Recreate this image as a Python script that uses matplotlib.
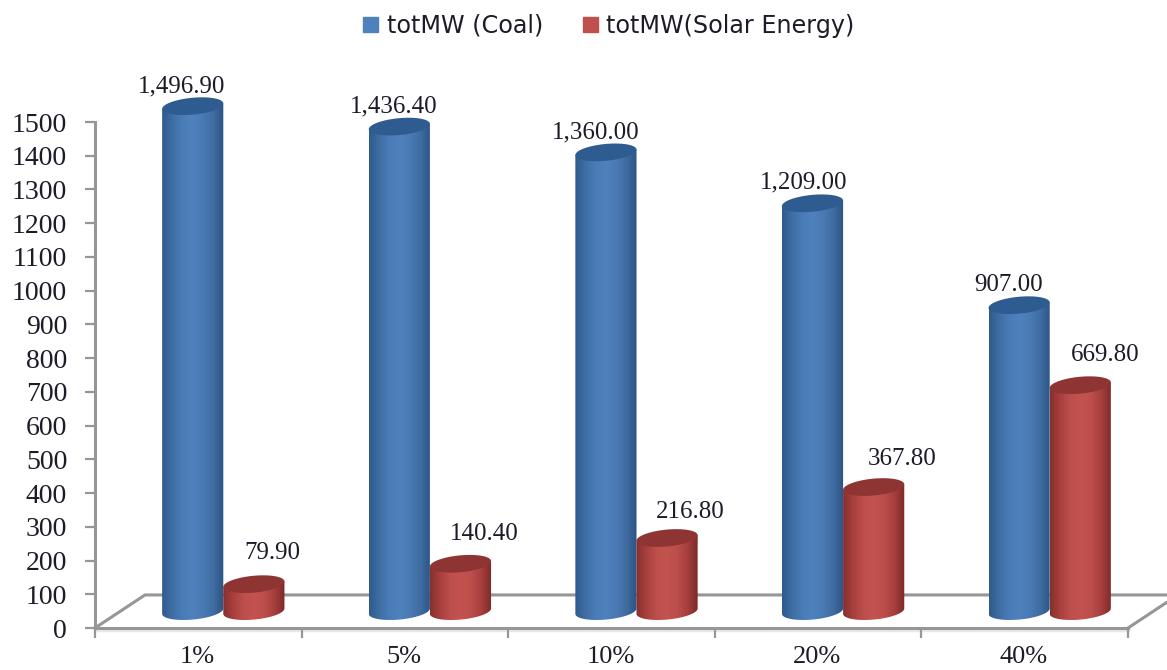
import numpy as np
import matplotlib
matplotlib.use("Agg")
import matplotlib.pyplot as plt
from matplotlib.colors import LinearSegmentedColormap
from matplotlib.patches import Patch, PathPatch
from matplotlib.path import Path

categories = ["1%", "5%", "10%", "20%", "40%"]
coal = [1496.90, 1436.40, 1360.00, 1209.00, 907.00]
solar = [79.90, 140.40, 216.80, 367.80, 669.80]
y_ticks = list(range(0, 1600, 100))

# pixel nudges for the value labels
coal_nudge = [(-11, 20), (-6, 20), (-10, 20), (-9, 21), (-11, 20)]
solar_nudge = [(18, 31), (24, 30), (23, 26), (28, 28), (25, 30)]

W, H = 1167, 670
AXIS = "#969696"
TEXT = "#1c1c28"
SERIF = "Liberation Serif"

# depth of the 3d floor, and where the bars stand on it
DEPTH_X, DEPTH_Y = 0.242, 98
MID_X, MID_Y = DEPTH_X / 2, 50
BAR_W = 0.296
ELL_H, ELL_TILT = 25, 8

blue_map = LinearSegmentedColormap.from_list("b", ["#2f5b8e", "#3f6ea3", "#4a7cb8", "#4f81bd", "#4a7ab4", "#3f6ca1", "#2b5484"])
red_map = LinearSegmentedColormap.from_list("r", ["#86302e", "#a9403e", "#bd4f4c", "#c4534f", "#bc4e4b", "#a63f3d", "#7d2a29"])


def cylinder(ax, cx, value, cmap, top_color, z):
	a = BAR_W / 2
	base = MID_Y
	top = MID_Y + value
	t = np.linspace(np.pi, 2 * np.pi, 60)
	arc_x = cx + a * np.cos(t)
	arc_y = base + ELL_H * np.sin(t) + ELL_TILT * np.cos(t)
	xs = np.r_[cx - a, arc_x, cx + a, cx - a]
	ys = np.r_[top - ELL_TILT, arc_y, top + ELL_TILT, top - ELL_TILT]
	body = PathPatch(Path(np.c_[xs, ys], closed=False), transform=ax.transData, facecolor="none", edgecolor="none")
	body.set_clip_on(False)
	ax.add_patch(body)
	grad = np.linspace(0, 1, 128).reshape(1, -1)
	im = ax.imshow(grad, cmap=cmap, aspect="auto", extent=(cx - a, cx + a, base - 60, top + 40), zorder=z, interpolation="bilinear")
	im.set_clip_path(body)
	# the tallest bars run past the top of the axes
	im.set_clip_box(ax.figure.bbox)
	t = np.linspace(0, 2 * np.pi, 120)
	cap_x = cx + a * np.cos(t)
	cap_y = top + ELL_H * np.sin(t) + ELL_TILT * np.cos(t)
	ax.fill(cap_x, cap_y, color=top_color, zorder=z + 0.1, lw=0, clip_on=False)


fig = plt.figure(figsize=(W / 100, H / 100), dpi=100)
ax = fig.add_axes([95 / W, (H - 628) / H, (1128 - 95) / W, (628 - 122) / H])

x = np.arange(len(categories))
for sp in ("top", "right"):
	ax.spines[sp].set_visible(False)
for sp in ("left", "bottom"):
	ax.spines[sp].set_color(AXIS)
	ax.spines[sp].set_linewidth(2.2)

# floor of the 3d box
x0, x1 = -0.5, len(categories) - 0.5
ax.plot([x0, x0 + DEPTH_X, x1 + DEPTH_X], [0, DEPTH_Y, DEPTH_Y], color=AXIS, lw=2.2, clip_on=False, zorder=1)
ax.plot([x1, x1 + DEPTH_X], [0, DEPTH_Y], color=AXIS, lw=2.2, clip_on=False, zorder=1)
ax.plot([x0, x1], [-7, -7], color="#e8e8e8", lw=2.5, clip_on=False, zorder=0)

for i in x:
	cylinder(ax, i + MID_X - BAR_W / 2, coal[i], blue_map, "#2f5c90", 3 + i)
	cylinder(ax, i + MID_X + BAR_W / 2, solar[i], red_map, "#8e3432", 3.5 + i)
	ax.annotate(f"{coal[i]:,.2f}", (i + MID_X - BAR_W / 2, coal[i] + MID_Y), xytext=coal_nudge[i],
		textcoords="offset pixels", ha="center", va="center", family=SERIF, fontsize=18, color=TEXT, annotation_clip=False, zorder=20)
	ax.annotate(f"{solar[i]:,.2f}", (i + MID_X + BAR_W / 2, solar[i] + MID_Y), xytext=solar_nudge[i],
		textcoords="offset pixels", ha="center", va="center", family=SERIF, fontsize=18, color=TEXT, annotation_clip=False, zorder=20)

ax.set_xlim(x0, x1)
ax.set_ylim(0, 1500)
ax.set_yticks(y_ticks)
ax.set_yticklabels([str(v) for v in y_ticks], family=SERIF, fontsize=20, color=TEXT)
ax.set_xticks(np.arange(x0, x1 + 1))
ax.set_xticklabels([])
ax.tick_params(axis="both", color=AXIS, width=1.6, length=7, pad=13)
for i, c in enumerate(categories):
	ax.annotate(c, (i, 0), xytext=(-1, -29), textcoords="offset pixels", ha="center", va="center",
		family=SERIF, fontsize=19, color=TEXT, annotation_clip=False)

handles = [Patch(color="#4f81bd", label="totMW (Coal)"), Patch(color="#c0504d", label="totMW(Solar Energy)")]
fig.legend(handles=handles, loc="center", bbox_to_anchor=(609 / W, 1 - 26 / H), ncol=2, frameon=False,
	fontsize=17.2, labelcolor=TEXT, handlelength=0.63, handleheight=0.63, handletextpad=0.35, columnspacing=1.68)

fig.savefig("out.png", dpi=100)
